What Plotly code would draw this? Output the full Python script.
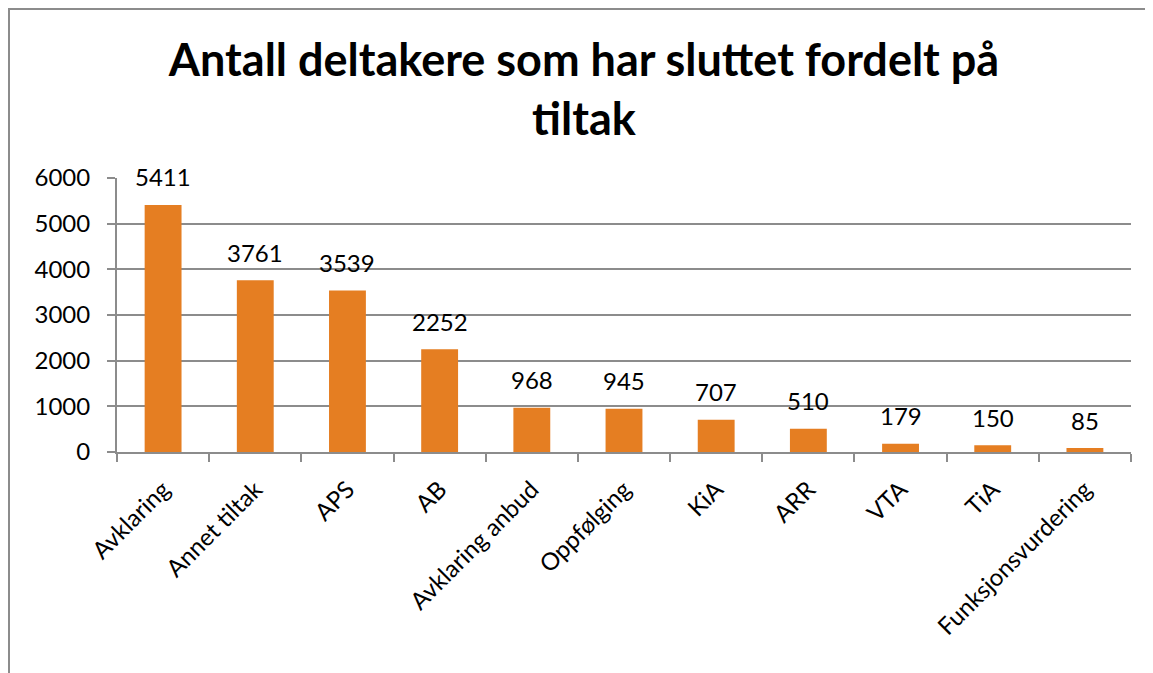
import plotly.graph_objects as go

categories = ["Avklaring", "Annet tiltak", "APS", "AB", "Avklaring anbud",
              "Oppfølging", "KiA", "ARR", "VTA", "TiA", "Funksjonsvurdering"]
values = [5411, 3761, 3539, 2252, 968, 945, 707, 510, 179, 150, 85]
y_ticks = [0, 1000, 2000, 3000, 4000, 5000, 6000]

FONT = "Lato"
OFF = 8  # page body margin
W, H = 1153 - OFF, 673 - OFF
L, R, T, B = 117 - OFF, 1131 - OFF, 178 - OFF, 452 - OFF
pw, ph = R - L, B - T

fig = go.Figure()
fig.add_trace(go.Bar(
    x=categories, y=values, width=0.4,
    marker=dict(color="#E57E22", line=dict(width=0)),
    hoverinfo="x+y",
))

for c, v in zip(categories, values):
    fig.add_annotation(x=c, y=v, xref="x", yref="y", text=str(v),
                       showarrow=False, yanchor="middle", yshift=28,
                       font=dict(family=FONT, size=24, color="#000000"))

def px2px(x):
    return (x - L) / pw

def py2py(y):
    return (B - y) / ph

# outer chart border (left and top visible)
fig.add_shape(type="line", xref="paper", yref="paper",
              x0=px2px(1), x1=px2px(1), y0=py2py(0), y1=py2py(700),
              line=dict(color="#8c8c8c", width=2))
fig.add_shape(type="line", xref="paper", yref="paper",
              x0=px2px(0), x1=px2px(1200), y0=py2py(1), y1=py2py(1),
              line=dict(color="#8c8c8c", width=2))

fig.update_layout(
    width=W, height=H,
    margin=dict(l=L, r=W - R, t=T, b=H - B, pad=0),
    paper_bgcolor="white", plot_bgcolor="white",
    showlegend=False,
    title=dict(text="<b>Antall deltakere som har sluttet fordelt på<br>tiltak</b>",
               x=576 / W, xanchor="center", xref="container",
               y=1 - 68 / H, yanchor="middle", yref="container",
               font=dict(family=FONT, size=45, color="#000000")),
    font=dict(family=FONT, size=24, color="#000000"),
)
fig.update_xaxes(
    range=[-0.5, len(categories) - 0.5],
    tickangle=-45, tickson="boundaries", ticks="outside", ticklen=8,
    tickcolor="#8c8c8c", tickwidth=2, ticklabelstandoff=12,
    showline=True, linecolor="#8c8c8c", linewidth=2,
    showgrid=False, tickfont=dict(family=FONT, size=24, color="#000000"),
)
fig.update_yaxes(
    range=[0, 6000], tickvals=y_ticks,
    ticks="outside", ticklen=8, tickcolor="#8c8c8c", tickwidth=2,
    ticklabelstandoff=12,
    showline=True, linecolor="#8c8c8c", linewidth=2,
    showgrid=True, gridcolor="#8c8c8c", gridwidth=1.5,
    zeroline=False,
    tickfont=dict(family=FONT, size=24, color="#000000"),
)

fig.write_html("out.html")
